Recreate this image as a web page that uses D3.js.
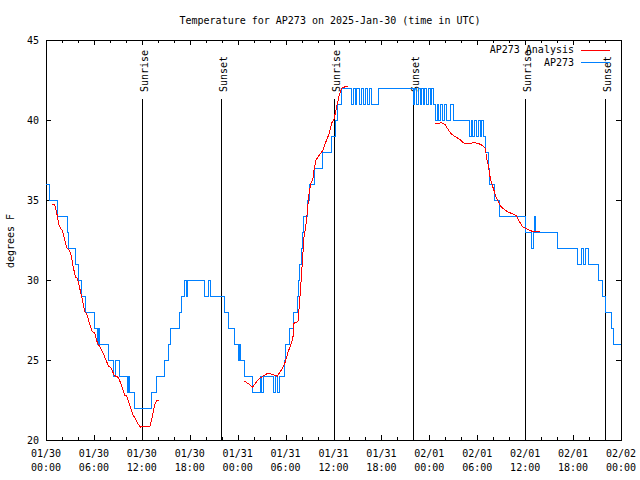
<!DOCTYPE html>
<html>
<head>
<meta charset="utf-8">
<script src="https://cdn.jsdelivr.net/npm/d3@7"></script>
<style>
  html, body { margin: 0; padding: 0; background: #fff; }
  svg { display: block; }
  text { font-family: "DejaVu Sans Mono", "Liberation Mono", monospace; font-size: 10px; fill: #000; }
</style>
</head>
<body>
<svg id="chart" width="640" height="480"></svg>
<script>
// ---------------- data ----------------
const chartTitle = "Temperature for AP273 on 2025-Jan-30 (time in UTC)";
const yAxisLabel = "degrees F";
const seriesNames = ["AP273 Analysis", "AP273"];
const startUTC = Date.UTC(2025, 0, 30, 0, 0);   // hours below are offsets from this
const endHours = 72;
const yTicks = [20, 25, 30, 35, 40, 45];

// AP273 observations: hour at which the reading changes, and the new reading (F)
const obsHours = [0, 0.4, 1.4, 2.65, 2.8, 3.65, 4.1, 4.4, 5.0, 6.05, 6.4, 6.6, 6.75, 7.85, 8.5, 8.7, 9.15,
  10.15, 10.35, 10.5, 11.1, 13.2, 13.8, 14.85, 15.35, 15.6, 16.75, 17.0, 17.4, 17.55, 17.75, 19.8, 20.4, 20.6,
  22.4, 22.9, 23.6, 24.05, 24.2, 24.35, 24.85, 25.85, 26.8, 26.95, 27.2, 28.5, 28.75, 28.95, 29.25, 29.85,
  30.0, 30.55, 30.95, 31.45, 31.65, 31.8, 31.95, 32.1, 32.25, 32.8, 33.05, 33.6, 34.6, 35.8, 36.2, 36.55,
  36.95, 38.3, 38.5, 38.75, 38.9, 39.3, 39.55, 39.75, 40.05, 40.3, 40.5, 40.75, 41.6, 46.0, 46.2, 46.45,
  46.6, 46.85, 47.05, 47.3, 47.45, 47.7, 47.9, 48.1, 48.3, 48.5, 48.75, 49.0, 49.2, 49.45, 49.7, 49.85,
  50.2, 50.7, 51.0, 53.0, 53.25, 53.45, 53.6, 53.85, 54.2, 54.35, 54.55, 54.8, 55.05, 55.35, 55.5, 56.1,
  56.75, 60.05, 60.85, 61.0, 61.15, 61.3, 64.1, 66.55, 67.0, 67.3, 67.5, 67.9, 69.2, 69.65, 70.05, 70.75,
  71.05, 72];
const obsTemps = [36, 35, 34, 33, 32, 31, 30, 29, 28, 27, 26, 27, 26, 25, 24, 25, 24,
  23, 24, 23, 22, 23, 24, 25, 26, 27, 28, 29, 30, 29, 30, 29, 30, 29,
  28, 27, 26, 25, 26, 25, 24, 23, 24, 23, 24, 23, 24, 23, 24, 25,
  26, 27, 28, 29, 30, 31, 32, 33, 34, 35, 36, 37, 38, 39, 40, 41,
  42, 41, 42, 41, 42, 41, 42, 41, 42, 41, 42, 41, 42, 41, 42, 41,
  42, 41, 42, 41, 42, 41, 42, 41, 42, 41, 40, 41, 40, 41, 40, 41,
  40, 41, 40, 39, 40, 39, 40, 39, 40, 39, 40, 39, 38, 37, 36, 35,
  34, 33, 32, 33, 34, 33, 32, 31, 32, 31, 32, 31, 30, 29, 28, 27,
  26, 26];

// AP273 Analysis (null = gap between analysis runs)
const anaHours = [0.75, 1.09, 1.34, 1.59, 1.84, 2.0, 2.25, 2.59, 2.84, 3.09, 3.42, 3.67, 3.92, 4.17, 4.51,
  4.85, 5.1, 5.42, 5.76, 6.1, 6.42, 6.76, 7.1, 7.42, 7.85, 8.18, 8.51, 8.85, 9.1, 9.52, 9.85, 10.1, 10.52,
  10.86, 11.18, 11.52, 11.86, 12.18, 13.02, 13.36, 13.61, 13.86, 14.11,
  14.2,
  24.83, 25.13, 25.46, 25.88, 26.17, 26.38, 26.8, 27.21, 27.64, 27.92, 28.26, 28.68, 28.96, 29.21, 29.51,
  29.72, 29.93, 30.14, 30.34, 30.55, 30.77, 30.97, 31.05, 31.55, 31.75, 31.95, 32.14, 32.31, 32.56, 32.72,
  32.9, 33.15, 33.4, 33.56, 33.81, 34.22, 34.65, 35.06, 35.47, 35.77, 36.06, 36.4, 36.73, 37.03, 37.44, 37.85,
  37.9,
  48.71, 49.55, 50.0, 50.25, 50.68, 51.21, 51.84, 52.25, 52.88, 53.51, 54.13, 54.68, 55.01, 55.18, 55.38,
  55.6, 55.81, 56.01, 56.35, 56.64, 56.94, 57.35, 57.76, 58.44, 58.94, 59.27, 59.69, 60.1, 60.61, 61.23, 61.86];
const anaTemps = [34.69, 34.7, 34.2, 33.5, 33.2, 33.15, 32.7, 32.0, 31.9, 31.7, 30.8, 30.2, 30.1, 29.6, 28.85,
  28.0, 27.9, 27.3, 26.8, 26.7, 26.1, 25.8, 25.5, 25.1, 24.6, 24.5, 24.06, 23.96, 23.9, 23.3, 22.8, 22.75, 22.1,
  21.6, 21.35, 21.0, 20.8, 20.85, 20.87, 21.56, 22.2, 22.5, 22.5,
  null,
  23.69, 23.58, 23.48, 23.3, 23.5, 23.65, 23.87, 24.0, 24.13, 24.17, 24.1, 24.04, 24.0, 24.17, 24.4,
  24.6, 24.85, 25.2, 25.55, 25.8, 26.1, 26.56, 27.3, 27.4, 28.6, 30.0, 31.4, 32.7, 33.5, 34.2,
  35.3, 36.04, 36.25, 36.9, 37.5, 37.8, 38.1, 38.65, 39.17, 39.8, 40.04, 40.83, 41.56, 41.98, 42.08, 42.1,
  null,
  39.75, 39.83, 39.7, 39.48, 39.17, 38.96, 38.79, 38.58, 38.5, 38.58, 38.54, 38.4, 38.23, 37.6, 37.19,
  36.46, 36.04, 35.73, 35.2, 34.9, 34.6, 34.42, 34.27, 34.13, 34.0, 33.65, 33.33, 33.23, 33.08, 33.02, 33.0];

// Sunrise / sunset markers
const sunHours = [12.05, 21.97, 36.1, 46.0, 60.02, 70.04];
const sunLabels = ["Sunrise", "Sunset", "Sunrise", "Sunset", "Sunrise", "Sunset"];

// ---------------- chart ----------------
const colors = { analysis: "#ff0000", obs: "#0080ff" };
const M = { left: 46, right: 621, top: 40, bottom: 440 };
const toDate = h => new Date(startUTC + h * 3600e3);

const svg = d3.select("#chart");
const x = d3.scaleUtc().domain([toDate(0), toDate(endHours)]).range([M.left, M.right]);
const y = d3.scaleLinear().domain([20, 45]).range([M.bottom, M.top]);

const obs = obsHours.map((h, i) => ({ d: toDate(h), t: obsTemps[i] }));
const ana = anaHours.map((h, i) => ({ d: toDate(h), t: anaTemps[i] }));

// axes (ticks inward on all four sides)
const majorEvery = d3.utcHour.every(6);
const minorEvery = d3.utcHour.every(2);
function tickStyle(g) {
  g.select(".domain").remove();
  g.selectAll("line").attr("stroke", "#000").attr("shape-rendering", "crispEdges");
  g.selectAll("text").remove();
}
svg.append("g").attr("transform", `translate(0,${M.bottom})`)
  .call(d3.axisBottom(x).ticks(minorEvery).tickSize(-3).tickSizeOuter(0)).call(tickStyle);
svg.append("g").attr("transform", `translate(0,${M.bottom})`)
  .call(d3.axisBottom(x).ticks(majorEvery).tickSize(-5).tickSizeOuter(0)).call(tickStyle);
svg.append("g").attr("transform", `translate(0,${M.top})`)
  .call(d3.axisTop(x).ticks(minorEvery).tickSize(-3).tickSizeOuter(0)).call(tickStyle);
svg.append("g").attr("transform", `translate(0,${M.top})`)
  .call(d3.axisTop(x).ticks(majorEvery).tickSize(-5).tickSizeOuter(0)).call(tickStyle);
svg.append("g").attr("transform", `translate(${M.left},0)`)
  .call(d3.axisLeft(y).tickValues(yTicks).tickSize(-5).tickSizeOuter(0)).call(tickStyle);
svg.append("g").attr("transform", `translate(${M.right},0)`)
  .call(d3.axisRight(y).tickValues(yTicks).tickSize(-5).tickSizeOuter(0)).call(tickStyle);

// tick labels
const fmtDay = d3.utcFormat("%m/%d"), fmtTime = d3.utcFormat("%H:%M");
const xt = svg.append("g").selectAll("g").data(x.ticks(majorEvery)).join("g")
  .attr("transform", d => `translate(${x(d)},0)`);
xt.append("text").attr("y", 453).attr("text-anchor", "middle").attr("dominant-baseline", "central").text(fmtDay);
xt.append("text").attr("y", 467).attr("text-anchor", "middle").attr("dominant-baseline", "central").text(fmtTime);
svg.append("g").selectAll("text").data(yTicks).join("text")
  .attr("x", 39).attr("y", d => y(d) + 0.5).attr("text-anchor", "end").attr("dominant-baseline", "central")
  .text(d => d);

// plot border
svg.append("rect").attr("x", M.left).attr("y", M.top)
  .attr("width", M.right - M.left).attr("height", M.bottom - M.top)
  .attr("fill", "none").attr("stroke", "#000").attr("shape-rendering", "crispEdges");

// sunrise / sunset lines
const sun = svg.append("g").selectAll("g").data(sunHours.map((h, i) => ({ d: toDate(h), label: sunLabels[i] })))
  .join("g").attr("transform", d => `translate(${Math.round(x(d.d)) + 0.5},0)`);
sun.append("line").attr("y1", 99).attr("y2", M.bottom).attr("stroke", "#000").attr("shape-rendering", "crispEdges");
sun.append("text").attr("transform", "translate(2,92) rotate(-90)")
  .attr("dominant-baseline", "central").attr("text-anchor", "start").text(d => d.label);

// data lines
const lineObs = d3.line().x(d => x(d.d)).y(d => y(d.t)).curve(d3.curveStepAfter);
const lineAna = d3.line().defined(d => d.t != null).x(d => x(d.d)).y(d => y(d.t));
svg.append("path").datum(obs).attr("d", lineObs).attr("fill", "none")
  .attr("stroke", colors.obs).attr("stroke-width", 1).attr("shape-rendering", "crispEdges");
svg.append("path").datum(ana).attr("d", lineAna).attr("fill", "none")
  .attr("stroke", colors.analysis).attr("stroke-width", 1).attr("shape-rendering", "crispEdges");

// legend
const legendRows = [
  { name: seriesNames[0], color: colors.analysis, y: 49.5 },
  { name: seriesNames[1], color: colors.obs, y: 62 }
];
const lg = svg.append("g").selectAll("g").data(legendRows).join("g");
lg.append("text").attr("x", 574).attr("y", d => d.y).attr("text-anchor", "end")
  .attr("dominant-baseline", "central").text(d => d.name);
lg.append("line").attr("x1", 581).attr("x2", 610).attr("y1", d => Math.round(d.y) + 0.5).attr("y2", d => Math.round(d.y) + 0.5)
  .attr("stroke", d => d.color).attr("shape-rendering", "crispEdges");

// titles
svg.append("text").attr("x", 330).attr("y", 20.5).attr("text-anchor", "middle")
  .attr("dominant-baseline", "central").text(chartTitle);
svg.append("text").attr("transform", "translate(10,241) rotate(-90)").attr("text-anchor", "middle")
  .attr("dominant-baseline", "central").text(yAxisLabel);
</script>
</body>
</html>
